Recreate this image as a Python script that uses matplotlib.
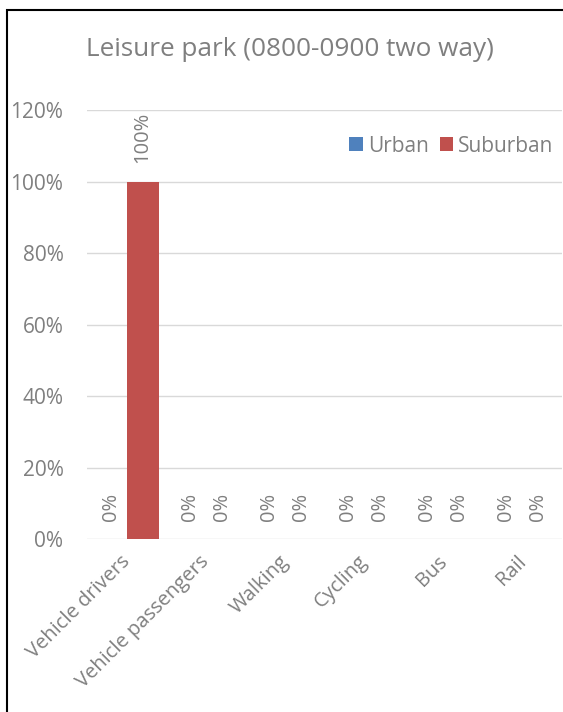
import matplotlib
matplotlib.use("Agg")
import matplotlib.pyplot as plt
from matplotlib.patches import Rectangle
import numpy as np

categories = ["Vehicle drivers", "Vehicle passengers", "Walking", "Cycling", "Bus", "Rail"]
urban = [0, 0, 0, 0, 0, 0]
suburban = [100, 0, 0, 0, 0, 0]
series_names = ["Urban", "Suburban"]
colors = ["#4F81BD", "#C0504D"]
yticks = [0, 20, 40, 60, 80, 100, 120]

plt.rcParams['font.family'] = ['Open Sans', 'DejaVu Sans']
gray = "#7F7F7F"

W, H = 563, 712
fig = plt.figure(figsize=(W / 100, H / 100), dpi=100)

# outer frame
fig.patches.append(Rectangle((7 / W, -0.1), 1.2, (H - 10) / H + 0.1, transform=fig.transFigure,
                             fill=False, edgecolor="black", linewidth=1.5))

ax = fig.add_axes([87 / W, (H - 539) / H, (562 - 87) / W, (539 - 110) / H])
x = np.arange(len(categories))
bw = 0.405
b1 = ax.bar(x - bw / 2, urban, bw, color=colors[0], label=series_names[0])
b2 = ax.bar(x + bw / 2, suburban, bw, color=colors[1], label=series_names[1])

for bars, vals in ((b1, urban), (b2, suburban)):
    for r, v in zip(bars, vals):
        ax.annotate(f"{v:.0f}%", (r.get_x() + r.get_width() / 2, v), xytext=(0, 13),
                    textcoords="offset points", rotation=90, ha="center", va="bottom",
                    fontsize=14.5, color=gray)

ax.set_xlim(-0.5, len(categories) - 0.5)
ax.set_ylim(0, 120)
ax.set_yticks(yticks)
ax.set_yticklabels([f"{t}%" for t in yticks], fontsize=15, color=gray)
ax.set_xticks(x)
ax.set_xticklabels([])
for xi, cat in zip(x, categories):
    ax.annotate(cat, (xi, 0), xycoords=("data", "axes fraction"), xytext=(2.9, -16.6),
                textcoords="offset points", rotation=45, ha="right", va="baseline",
                rotation_mode="anchor", fontsize=14.5, color=gray, annotation_clip=False)
ax.tick_params(axis="both", length=0)
ax.tick_params(axis="y", pad=17)
ax.grid(axis="y", color="#D9D9D9", linewidth=1)
ax.set_axisbelow(True)
for s in ax.spines.values():
    s.set_visible(False)

fig.text(290 / W, (H - 50) / H, "Leisure park (0800-0900 two way)", ha="center", va="center",
         fontsize=18.8, color=gray)

leg_y = (539 - 146) / (539 - 110)
ax.legend(loc="center right", bbox_to_anchor=(1.0, leg_y),
          ncol=2, frameon=False, fontsize=15, borderaxespad=0,
          handlelength=0.65, handleheight=0.65, handletextpad=0.25, columnspacing=0.5, labelcolor=gray)

fig.savefig("out.png", dpi=100)
